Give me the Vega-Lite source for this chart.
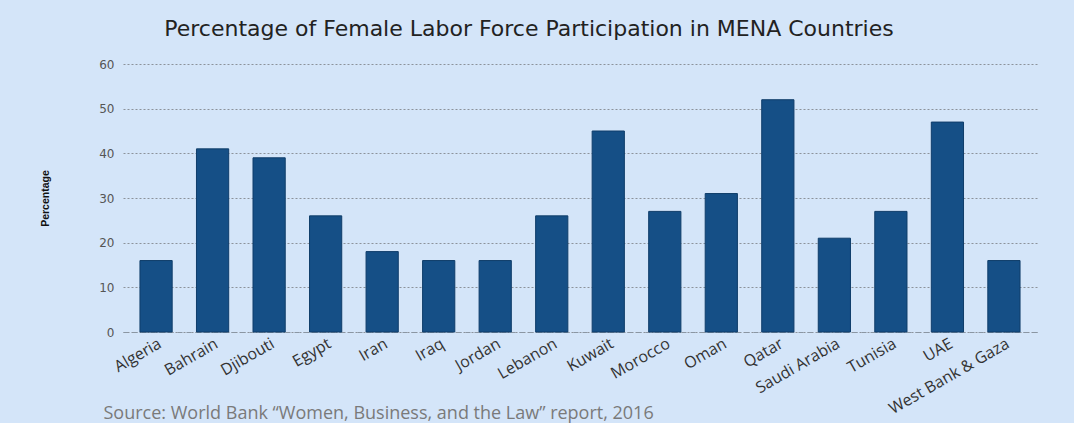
{
  "$schema": "https://vega.github.io/schema/vega-lite/v6.json",
  "autosize": {"type": "none"},
  "width": 914,
  "height": 268,
  "padding": {"left": 123, "top": 64, "right": 37, "bottom": 91},
  "background": "#d4e5f9",
  "title": {
    "text": "Percentage of Female Labor Force Participation in MENA Countries",
    "font": "DejaVu Sans",
    "fontSize": 22,
    "fontWeight": "normal",
    "color": "#222222",
    "anchor": "middle",
    "dx": -51,
    "offset": 17
  },
  "data": {
    "values": [
      {"country": "Algeria", "value": 16},
      {"country": "Bahrain", "value": 41},
      {"country": "Djibouti", "value": 39},
      {"country": "Egypt", "value": 26},
      {"country": "Iran", "value": 18},
      {"country": "Iraq", "value": 16},
      {"country": "Jordan", "value": 16},
      {"country": "Lebanon", "value": 26},
      {"country": "Kuwait", "value": 45},
      {"country": "Morocco", "value": 27},
      {"country": "Oman", "value": 31},
      {"country": "Qatar", "value": 52},
      {"country": "Saudi Arabia", "value": 21},
      {"country": "Tunisia", "value": 27},
      {"country": "UAE", "value": 47},
      {"country": "West Bank & Gaza", "value": 16}
    ]
  },
  "mark": {"type": "bar", "color": "#154f86", "stroke": "#0f3d6a", "strokeWidth": 1},
  "encoding": {
    "x": {
      "field": "country",
      "type": "nominal",
      "sort": null,
      "scale": {"paddingInner": 0.43, "paddingOuter": 0.3},
      "axis": {
        "title": "Source: World Bank \u201cWomen, Business, and the Law\u201d report, 2016",
        "titleFont": "Open Sans",
        "titleFontSize": 18,
        "titleFontWeight": "normal",
        "titleColor": "#7a7a7a",
        "titleAnchor": "start",
        "titleAlign": "left",
        "titleBaseline": "alphabetic",
        "titleX": -20,
        "titleY": 86,
        "labelAngle": -30,
        "labelFont": "Open Sans",
        "labelFontSize": 16,
        "labelColor": "#333333",
        "labelPadding": 3,
        "ticks": false,
        "domain": true,
        "domainColor": "#8a96a3",
        "domainDash": [5, 4],
        "domainWidth": 1.2,
        "grid": false
      }
    },
    "y": {
      "field": "value",
      "type": "quantitative",
      "scale": {"domain": [0, 60]},
      "axis": {
        "title": "Percentage",
        "titleFont": "Liberation Sans",
        "titleFontSize": 10.5,
        "titleFontWeight": "bold",
        "titleColor": "#111111",
        "titleX": -73,
        "values": [0, 10, 20, 30, 40, 50, 60],
        "labelFont": "DejaVu Sans",
        "labelFontSize": 12,
        "labelColor": "#555555",
        "labelPadding": 9,
        "ticks": false,
        "domain": false,
        "grid": true,
        "gridColor": "#8c929b",
        "gridDash": [2, 2],
        "gridWidth": 1
      }
    }
  },
  "config": {"view": {"stroke": null}}
}
